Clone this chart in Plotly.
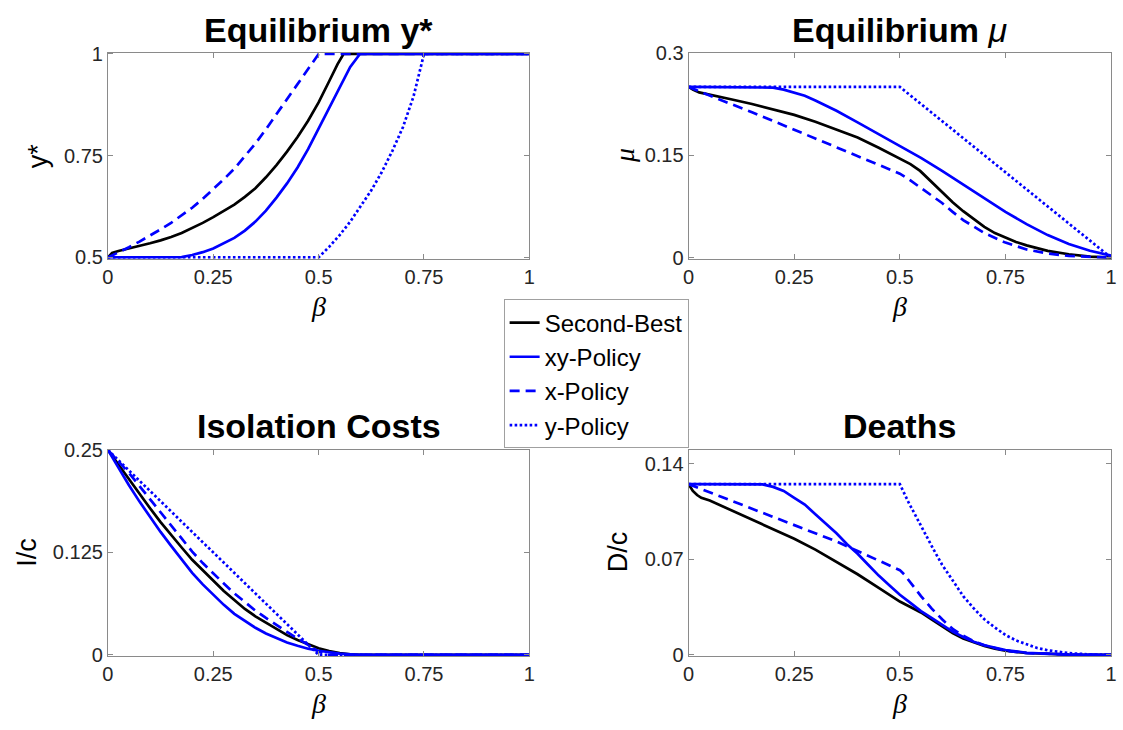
import plotly.graph_objects as go

# ---------------- data ----------------
# Equilibrium y*
ys_sb_b = [0, 0.01, 0.025, 0.05, 0.075, 0.1, 0.125, 0.15, 0.175, 0.2, 0.225, 0.25, 0.275, 0.3,
           0.325, 0.35, 0.375, 0.4, 0.425, 0.45, 0.475, 0.5, 0.525, 0.545, 0.559, 1]
ys_sb = [0.5, 0.511, 0.516, 0.522, 0.528, 0.535, 0.542, 0.55, 0.56, 0.572, 0.585, 0.599, 0.614,
         0.63, 0.649, 0.67, 0.697, 0.727, 0.76, 0.796, 0.836, 0.881, 0.933, 0.975, 1, 1]
ys_xy_b = [0, 0.15, 0.175, 0.2, 0.225, 0.25, 0.275, 0.3, 0.325, 0.35, 0.375, 0.4, 0.425, 0.45,
           0.475, 0.5, 0.525, 0.55, 0.575, 0.598, 1]
ys_xy = [0.5, 0.5, 0.501, 0.506, 0.513, 0.522, 0.534, 0.548, 0.566, 0.588, 0.615, 0.647, 0.682,
         0.721, 0.766, 0.817, 0.868, 0.92, 0.968, 1, 1]
ys_x_b = [0, 0.025, 0.05, 0.075, 0.1, 0.125, 0.15, 0.175, 0.2, 0.225, 0.25, 0.275, 0.3, 0.325,
          0.35, 0.375, 0.4, 0.425, 0.45, 0.475, 0.5, 1]
ys_x = [0.5, 0.512, 0.525, 0.539, 0.553, 0.569, 0.585, 0.603, 0.622, 0.644, 0.667, 0.692, 0.718,
        0.748, 0.78, 0.815, 0.852, 0.888, 0.924, 0.962, 1, 1]
ys_y_b = [0, 0.5, 0.525, 0.55, 0.575, 0.6, 0.625, 0.65, 0.675, 0.7, 0.725, 0.75, 1]
ys_y = [0.5, 0.5, 0.526, 0.555, 0.588, 0.625, 0.665, 0.71, 0.762, 0.82, 0.895, 1, 1]

# Equilibrium mu
mu_sb_b = [0, 0.01, 0.025, 0.05, 0.1, 0.15, 0.2, 0.25, 0.3, 0.35, 0.4, 0.45, 0.5, 0.525, 0.548,
           0.56, 0.575, 0.6, 0.625, 0.65, 0.675, 0.7, 0.725, 0.75, 0.775, 0.8, 0.85, 0.9, 0.95, 1]
mu_sb = [0.25, 0.246, 0.242, 0.239, 0.232, 0.225, 0.217, 0.209, 0.199, 0.188, 0.176, 0.161,
         0.145, 0.137, 0.127, 0.12, 0.11, 0.096, 0.081, 0.068, 0.056, 0.045, 0.036, 0.029,
         0.023, 0.018, 0.01, 0.005, 0.0015, 0]
mu_xy_b = [0, 0.17, 0.2, 0.225, 0.25, 0.275, 0.3, 0.35, 0.4, 0.45, 0.5, 0.55, 0.6, 0.65, 0.7,
           0.75, 0.8, 0.85, 0.9, 0.95, 1]
mu_xy = [0.25, 0.25, 0.249, 0.246, 0.242, 0.237, 0.23, 0.215, 0.198, 0.181, 0.163, 0.146, 0.127,
         0.107, 0.087, 0.067, 0.049, 0.033, 0.02, 0.01, 0.003]
mu_x_b = [0, 0.05, 0.1, 0.15, 0.2, 0.25, 0.3, 0.35, 0.4, 0.45, 0.5, 0.525, 0.55, 0.575, 0.6,
          0.625, 0.65, 0.7, 0.75, 0.8, 0.85, 0.9, 0.95, 1]
mu_x = [0.25, 0.237, 0.225, 0.213, 0.2, 0.188, 0.175, 0.162, 0.149, 0.136, 0.123, 0.113, 0.102,
        0.091, 0.08, 0.067, 0.055, 0.036, 0.022, 0.012, 0.006, 0.0025, 0.0008, 0]
mu_y_b = [0, 0.5, 1]
mu_y = [0.25, 0.25, 0]

# Isolation costs I/c
ic_sb_b = [0, 0.025, 0.05, 0.075, 0.1, 0.125, 0.15, 0.175, 0.2, 0.225, 0.25, 0.275, 0.3, 0.325,
           0.35, 0.375, 0.4, 0.425, 0.45, 0.475, 0.5, 0.525, 0.55, 0.575, 0.6, 1]
ic_sb = [0.25, 0.232, 0.214, 0.196, 0.179, 0.162, 0.146, 0.131, 0.116, 0.103, 0.09, 0.078, 0.067,
         0.056, 0.047, 0.039, 0.031, 0.024, 0.018, 0.013, 0.008, 0.0045, 0.002, 0.0005, 0, 0]
ic_xy_b = [0, 0.025, 0.05, 0.075, 0.1, 0.125, 0.15, 0.175, 0.2, 0.225, 0.25, 0.275, 0.3, 0.325,
           0.35, 0.375, 0.4, 0.425, 0.45, 0.475, 0.5, 0.525, 0.55, 0.575, 0.6, 1]
ic_xy = [0.25, 0.228, 0.207, 0.187, 0.168, 0.15, 0.133, 0.116, 0.1, 0.086, 0.073, 0.061, 0.05,
         0.041, 0.033, 0.026, 0.02, 0.015, 0.011, 0.0075, 0.005, 0.003, 0.0015, 0.0005, 0, 0]
ic_x_b = [0, 0.025, 0.05, 0.075, 0.1, 0.125, 0.15, 0.175, 0.2, 0.225, 0.25, 0.275, 0.3, 0.325,
          0.35, 0.375, 0.4, 0.425, 0.45, 0.475, 0.5, 0.52, 1]
ic_x = [0.25, 0.236, 0.222, 0.206, 0.19, 0.173, 0.157, 0.141, 0.126, 0.112, 0.099, 0.087, 0.075,
        0.064, 0.054, 0.045, 0.036, 0.028, 0.02, 0.012, 0.004, 0, 0]
ic_y_b = [0, 0.5, 1]
ic_y = [0.25, 0, 0]

# Deaths D/c
dc_sb_b = [0, 0.005, 0.01, 0.02, 0.03, 0.05, 0.1, 0.15, 0.2, 0.25, 0.3, 0.35, 0.4, 0.45, 0.5,
           0.525, 0.55, 0.575, 0.6, 0.625, 0.65, 0.675, 0.7, 0.725, 0.75, 0.8, 0.85, 0.9, 1]
dc_sb = [0.125, 0.122, 0.12, 0.117, 0.115, 0.113, 0.106, 0.099, 0.092, 0.085, 0.077, 0.068,
         0.059, 0.049, 0.039, 0.035, 0.031, 0.026, 0.021, 0.016, 0.012, 0.009, 0.0065, 0.0045,
         0.003, 0.0013, 0.0005, 0.0002, 0]
dc_xy_b = [0, 0.15, 0.175, 0.2, 0.225, 0.25, 0.275, 0.3, 0.325, 0.35, 0.375, 0.4, 0.425, 0.45,
           0.475, 0.5, 0.525, 0.55, 0.575, 0.6, 0.625, 0.65, 0.675, 0.7, 0.725, 0.75, 0.8, 0.85,
           0.9, 1]
dc_xy = [0.125, 0.125, 0.1248, 0.123, 0.12, 0.115, 0.11, 0.103, 0.096, 0.089, 0.081, 0.074,
         0.066, 0.058, 0.051, 0.044, 0.038, 0.032, 0.027, 0.022, 0.017, 0.013, 0.0095, 0.007,
         0.005, 0.0035, 0.0015, 0.0006, 0.0002, 0]
dc_x_b = [0, 0.05, 0.1, 0.15, 0.2, 0.25, 0.3, 0.35, 0.4, 0.45, 0.5, 0.51, 0.525, 0.55, 0.575,
          0.6, 0.625, 0.65, 0.675, 0.7, 0.75, 0.8, 0.9, 1]
dc_x = [0.125, 0.119, 0.113, 0.107, 0.101, 0.095, 0.089, 0.083, 0.076, 0.069, 0.062, 0.059,
        0.053, 0.043, 0.034, 0.026, 0.019, 0.014, 0.01, 0.007, 0.003, 0.0012, 0.0002, 0]
dc_y_b = [0, 0.5, 0.52, 0.54, 0.56, 0.58, 0.6, 0.625, 0.65, 0.675, 0.7, 0.725, 0.75, 0.775, 0.8,
          0.825, 0.85, 0.875, 0.9, 0.95, 1]
dc_y = [0.125, 0.125, 0.112, 0.1, 0.088, 0.077, 0.066, 0.054, 0.043, 0.034, 0.026, 0.02, 0.0145,
        0.0105, 0.0075, 0.005, 0.0033, 0.002, 0.0012, 0.0003, 0]

series_names = ["Second-Best", "xy-Policy", "x-Policy", "y-Policy"]
x_ticks = [0, 0.25, 0.5, 0.75, 1]
x_ticklabels = ["0", "0.25", "0.5", "0.75", "1"]
panel_yticks = {
    "y": ([0.5, 0.75, 1], ["0.5", "0.75", "1"]),
    "y2": ([0, 0.15, 0.3], ["0", "0.15", "0.3"]),
    "y3": ([0, 0.125, 0.25], ["0", "0.125", "0.25"]),
    "y4": ([0, 0.07, 0.14], ["0", "0.07", "0.14"]),
}

# ---------------- styles ----------------
BLUE = "#0000FF"
BLACK = "#000000"
LW = 2.7
styles = [
    dict(color=BLACK, width=LW, dash="solid"),
    dict(color=BLUE, width=LW, dash="solid"),
    dict(color=BLUE, width=LW, dash="10px,6px"),
    dict(color=BLUE, width=LW, dash="2.6px,2.4px"),
]

panels = [
    ("x", "y", [(ys_sb_b, ys_sb), (ys_xy_b, ys_xy), (ys_x_b, ys_x), (ys_y_b, ys_y)]),
    ("x2", "y2", [(mu_sb_b, mu_sb), (mu_xy_b, mu_xy), (mu_x_b, mu_x), (mu_y_b, mu_y)]),
    ("x3", "y3", [(ic_sb_b, ic_sb), (ic_xy_b, ic_xy), (ic_x_b, ic_x), (ic_y_b, ic_y)]),
    ("x4", "y4", [(dc_sb_b, dc_sb), (dc_xy_b, dc_xy), (dc_x_b, dc_x), (dc_y_b, dc_y)]),
]

fig = go.Figure()
for pi, (xa, ya, data) in enumerate(panels):
    for si, (bx, vy) in enumerate(data):
        fig.add_trace(go.Scatter(
            x=bx, y=vy, mode="lines", xaxis=xa, yaxis=ya,
            line=styles[si], name=series_names[si],
            showlegend=(pi == 0),
        ))

W, H = 1123, 730
def px(x):
    return x / W
def py(y):
    return 1 - y / H

L = [px(103), px(529)]
R = [px(690), px(1117)]
T = [py(255), py(43)]
B = [py(664), py(452)]

FONT = "Liberation Sans, Arial, Helvetica, sans-serif"
axis_common = dict(
    showline=True, linecolor="#8a8a8a", linewidth=1, mirror="ticks",
    ticks="inside", ticklen=5, tickcolor="#8a8a8a", showgrid=False, zeroline=False,
    tickfont=dict(family=FONT, size=20, color="#262626"),
    ticklabeloverflow="allow",
)

def xaxis(domain, anchor):
    return dict(axis_common, domain=domain, anchor=anchor, range=[0, 1],
                tickvals=x_ticks, ticktext=x_ticklabels)

def yaxis(domain, anchor, rng, key):
    tv, tt = panel_yticks[key]
    return dict(axis_common, domain=domain, anchor=anchor, range=rng,
                tickvals=tv, ticktext=tt)

fig.update_layout(
    width=W, height=H,
    margin=dict(l=0, r=0, t=0, b=0),
    paper_bgcolor="white", plot_bgcolor="white",
    font=dict(family=FONT, color="#000000"),
    xaxis=xaxis(L, "y"), yaxis=yaxis(T, "x", [0.497, 1.003], "y"),
    xaxis2=xaxis(R, "y2"), yaxis2=yaxis(T, "x2", [-0.0015, 0.3], "y2"),
    xaxis3=xaxis(L, "y3"), yaxis3=yaxis(B, "x3", [-0.0013, 0.25], "y3"),
    xaxis4=xaxis(R, "y4"), yaxis4=yaxis(B, "x4", [-0.0008, 0.15], "y4"),
    legend=dict(
        x=px(503), y=py(297), xanchor="left", yanchor="top",
        bgcolor="white", bordercolor="#a0a0a0", borderwidth=1,
        font=dict(family=FONT, size=24, color="#000000"),
        tracegroupgap=0, itemwidth=30,
    ),
    showlegend=True,
)

SERIF = "Liberation Serif, Times New Roman, serif"
def ann(text, x, y, size, angle=0, family=FONT):
    fig.add_annotation(text=text, x=px(x), y=py(y), xref="paper", yref="paper",
                       showarrow=False, textangle=angle, xanchor="center", yanchor="middle",
                       font=dict(family=family, size=size, color="#000000"))

# panel titles
ann("<b>Equilibrium y*</b>", 316, 20, 34)
ann("<b>Equilibrium</b> <i>μ</i>", 903.5, 20, 34)
ann("<b>Isolation Costs</b>", 316, 427, 34)
ann("<b>Deaths</b>", 903.5, 427, 34)

# axis titles
ann("<i>β</i>", 316, 304, 28, family=SERIF)
ann("<i>β</i>", 903.5, 304, 28, family=SERIF)
ann("<i>β</i>", 316, 713, 28, family=SERIF)
ann("<i>β</i>", 903.5, 713, 28, family=SERIF)
ann("y*", 32, 149, 27, angle=-90)
ann("<i>μ</i>", 625, 149, 28, angle=-90, family=SERIF)
ann("I/c", 21, 557, 27, angle=-90)
ann("D/c", 619, 557, 27, angle=-90)

# place the figure at the page's top-left corner with no scrolling
fig.write_html(
    "out.html",
    config={"displayModeBar": False},
    post_script="document.body.style.margin='0px';document.body.style.overflow='hidden';",
)
